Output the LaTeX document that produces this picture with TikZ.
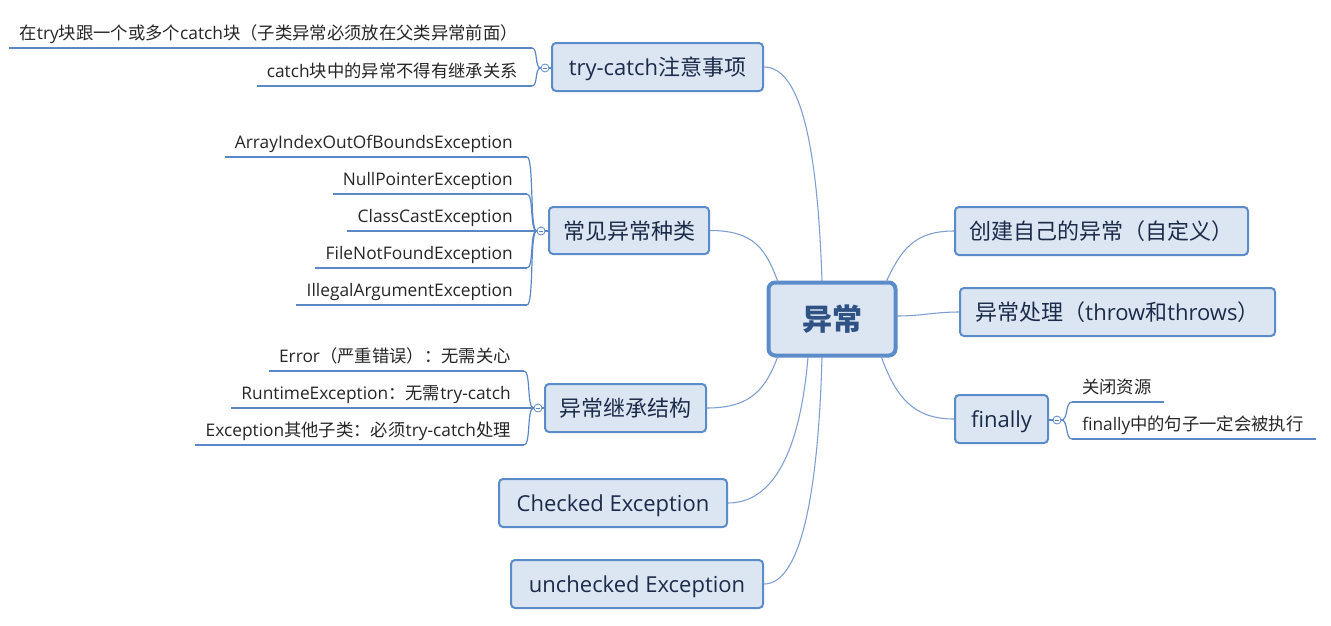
\documentclass[tikz,border=0pt]{standalone}
\usepackage{fontspec}
\setmainfont{Open Sans}
\newfontfamily\cjk{Noto Sans CJK SC}
\newcommand{\cjktext}[1]{{\cjk #1}}
\usetikzlibrary{calc}
\definecolor{boxfill}{HTML}{DCE6F2}
\definecolor{boxline}{HTML}{5B8BC9}
\definecolor{connc}{HTML}{7E9DD0}
\definecolor{ulc}{HTML}{5A88C6}
\definecolor{topictxt}{HTML}{1C2B4A}
\definecolor{centertxt}{HTML}{2E5283}
\begin{document}
\begin{tikzpicture}[x=0.75pt,y=-0.75pt,
  topic/.style 2 args={draw=boxline, line width=1.5pt, fill=boxfill, rounded corners=3pt,
    inner sep=0pt, text=topictxt, font=\fontsize{16.5pt}{19pt}\selectfont,
    text height=15pt, text depth=2pt,
    minimum width=#1*0.75pt, minimum height=#2*0.75pt},
  central/.style={draw=boxline, line width=3pt, fill=boxfill, rounded corners=5pt,
    inner sep=0pt, text=centertxt, font=\fontsize{22.5pt}{26pt}\selectfont\bfseries,
    minimum width=127*0.75pt, minimum height=73*0.75pt},
  subl/.style={anchor=base east, inner sep=0pt, text=black!85, font=\fontsize{13pt}{15pt}\selectfont},
  subr/.style={anchor=base west, inner sep=0pt, text=black!85, font=\fontsize{13pt}{15pt}\selectfont},
  uline/.style={draw=ulc, line width=2.2pt},
  brk/.style={draw=ulc, line width=0.9pt},
  conn/.style={draw=connc, line width=0.8pt},
  hub/.style={circle, draw=ulc, line width=0.6pt, fill=white, inner sep=0pt, minimum size=6pt,
    path picture={\draw[ulc, line width=0.5pt] ([xshift=-1.8pt]path picture bounding box.center) -- ([xshift=1.8pt]path picture bounding box.center);}}
]
\useasboundingbox (0,0) rectangle (1331,625);

% central
\node[central] (ctr) at (832,319) {\cjktext{异常}};

% topics
\node[topic={211}{48}] (tc) at (657.5,67) {try-catch\cjktext{注意事项}};
\node[topic={160}{47}] (cj) at (629,230.5) {\cjktext{常见异常种类}};
\node[topic={161}{48}] (jc) at (625.5,408) {\cjktext{异常继承结构}};
\node[topic={228}{48}] (ck) at (613,503) {Checked Exception};
\node[topic={252}{48}] (uc) at (637,584) {unchecked Exception};
\node[topic={293}{48}] (cz) at (1101.5,231) {\cjktext{创建自己的异常（自定义）}};
\node[topic={315}{48}] (cl) at (1117.5,312) {\cjktext{异常处理（}throw\cjktext{和}throws\cjktext{）}};
\node[topic={93}{48}] (fn) at (1001.5,419) {finally};

% connectors from central
\coordinate (s1) at (822,281);
\coordinate (s2) at (778,282);
\coordinate (s3) at (778,356);
\coordinate (s4) at (808,357);
\coordinate (s5) at (822,357);
\coordinate (s6) at (886,282);
\coordinate (s7) at (897,316);
\coordinate (s8) at (881,356);
\draw[conn] (s1) .. controls +(-4,-120) and +(40,0) .. (tc.east);
\draw[conn] (s2) .. controls +(-12,-32) and +(45,0) .. (cj.east);
\draw[conn] (s3) .. controls +(-12,32) and +(45,0) .. (jc.east);
\draw[conn] (s4) .. controls +(-8,95) and +(45,0) .. (ck.east);
\draw[conn] (s5) .. controls +(-4,145) and +(35,0) .. (uc.east);
\draw[conn] (s6) .. controls +(15,-32) and +(-40,0) .. (cz.west);
\draw[conn] (s7) .. controls +(25,0) and +(-25,0) .. (cl.west);
\draw[conn] (s8) .. controls +(15,42) and +(-40,0) .. (fn.west);

% try-catch children
\node[hub] (htc) at (545,68) {};
\draw[brk] (htc.east) -- (htc.east -| tc.west);
\node[subl] (tc1) at (518,39) {\cjktext{在}try\cjktext{块跟一个或多个}catch\cjktext{块（子类异常必须放在父类异常前面）}};
\node[subl] (tc2) at (518,77) {catch\cjktext{块中的异常不得有继承关系}};
\coordinate (utc1) at (532,48);
\coordinate (utc2) at (532,86);
\draw[uline] ([xshift=-7.5pt]tc1.west |- utc1) -- (utc1);
\draw[uline] ([xshift=-7.5pt]tc2.west |- utc2) -- (utc2);
\draw[brk] (htc.west) .. controls +(-6,0) and +(6,0) .. (utc1);
\draw[brk] (htc.west) .. controls +(-6,0) and +(6,0) .. (utc2);

% common exceptions
\node[hub] (hcj) at (541,231) {};
\draw[brk] (hcj.east) -- (hcj.east -| cj.west);
\node[subl] (cj1) at (513,148) {ArrayIndexOutOfBoundsException};
\node[subl] (cj2) at (513,185) {NullPointerException};
\node[subl] (cj3) at (513,222) {ClassCastException};
\node[subl] (cj4) at (513,259) {FileNotFoundException};
\node[subl] (cj5) at (513,296) {IllegalArgumentException};
\coordinate (ucj1) at (527,157);
\coordinate (ucj2) at (527,194);
\coordinate (ucj3) at (527,231);
\coordinate (ucj4) at (527,268);
\coordinate (ucj5) at (527,305);
\foreach \i in {1,...,5}{
  \draw[uline] ([xshift=-7.5pt]cj\i.west |- ucj\i) -- (ucj\i);
  \draw[brk] (hcj.west) .. controls +(-7,0) and +(7,0) .. (ucj\i);
}

% inheritance
\node[hub] (hjc) at (538,408) {};
\draw[brk] (hjc.east) -- (hjc.east -| jc.west);
\node[subl] (jc1) at (511,362) {Error\cjktext{（严重错误）：无需关心}};
\node[subl] (jc2) at (511,399) {RuntimeException\cjktext{：无需}try-catch};
\node[subl] (jc3) at (511,436) {Exception\cjktext{其他子类：必须}try-catch\cjktext{处理}};
\coordinate (ujc1) at (524,371);
\coordinate (ujc2) at (524,408);
\coordinate (ujc3) at (524,445);
\foreach \i in {1,2,3}{
  \draw[uline] ([xshift=-7.5pt]jc\i.west |- ujc\i) -- (ujc\i);
  \draw[brk] (hjc.west) .. controls +(-7,0) and +(7,0) .. (ujc\i);
}

% finally
\node[hub] (hfn) at (1057,420) {};
\draw[brk] (fn.east |- hfn.west) -- (hfn.west);
\node[subr] (fn1) at (1082,393) {\cjktext{关闭资源}};
\node[subr] (fn2) at (1082,430) {finally\cjktext{中的句子一定会被执行}};
\coordinate (ufn1) at (1072,402);
\coordinate (ufn2) at (1072,439);
\foreach \i in {1,2}{
  \draw[uline] (ufn\i) -- ([xshift=9pt]fn\i.east |- ufn\i);
  \draw[brk] (hfn.east) .. controls +(7,0) and +(-7,0) .. (ufn\i);
}
\end{tikzpicture}
\end{document}
